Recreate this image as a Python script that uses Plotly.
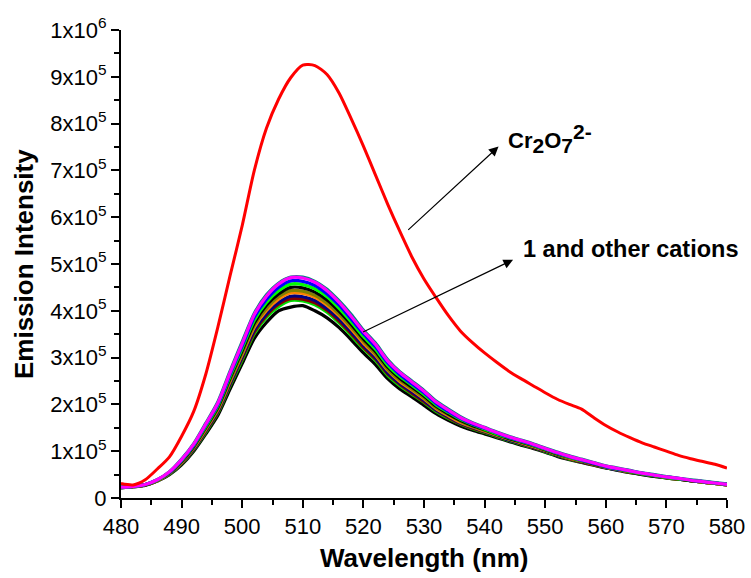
import plotly.graph_objects as go

wavelength = list(range(480, 581, 2))

# values in units of 1e3 counts
cr2o7 = [31, 28, 39, 62, 88, 132, 185, 265, 366, 475, 582, 700, 790, 852, 898, 925, 924, 905,
         865, 810, 752, 690, 628, 570, 515, 468, 428, 390, 357, 332, 310, 290, 271, 255, 240,
         225, 211, 200, 190, 172, 155, 141, 129, 118, 109, 100, 91, 84, 78, 72, 64]

magenta = [23, 25, 29, 39, 56, 82, 115, 158, 203, 268, 330, 392, 431, 457, 471, 470, 461, 443,
           418, 388, 356, 328, 293, 268, 248, 228, 205, 188, 172, 160, 150, 140, 131, 123, 115,
           106, 97, 89, 82, 75, 68, 63, 58, 53, 49, 45, 42, 38, 35, 32, 29]
teal = [23, 25, 29, 39, 56, 83, 116, 160, 206, 271, 334, 395, 434, 459, 472, 472, 463, 446,
        421, 392, 359, 331, 296, 270, 250, 230, 207, 190, 174, 161, 151, 141, 132, 124, 116,
        107, 98, 90, 83, 76, 69, 64, 59, 54, 50, 46, 42, 39, 36, 33, 30]
blue = [23, 25, 29, 39, 55, 81, 113, 156, 200, 264, 325, 386, 424, 450, 464, 463, 454, 436,
        412, 382, 351, 323, 289, 264, 244, 225, 202, 185, 170, 158, 149, 139, 130, 122, 114,
        105, 96, 88, 81, 74, 67, 62, 58, 53, 49, 45, 42, 38, 35, 32, 29]
green = [23, 25, 29, 38, 55, 80, 112, 153, 197, 260, 320, 380, 418, 443, 457, 456, 447, 430,
         405, 376, 345, 318, 284, 260, 241, 221, 199, 183, 168, 157, 147, 137, 129, 121, 113,
         104, 95, 87, 80, 74, 67, 62, 57, 52, 48, 44, 41, 38, 35, 32, 29]
black1 = [23, 25, 28, 38, 54, 78, 110, 151, 194, 256, 315, 374, 412, 436, 450, 449, 440, 423,
          399, 371, 340, 313, 280, 256, 237, 218, 196, 180, 166, 155, 146, 136, 127, 120, 112,
          103, 94, 87, 80, 73, 67, 62, 57, 52, 48, 44, 41, 37, 35, 32, 29]
olive = [23, 25, 28, 38, 53, 77, 108, 149, 191, 252, 310, 369, 405, 430, 443, 442, 433, 416,
         393, 365, 335, 308, 275, 252, 233, 214, 193, 178, 164, 153, 144, 135, 126, 119, 111,
         102, 94, 86, 79, 73, 66, 61, 56, 52, 48, 44, 41, 37, 34, 31, 29]
orange = [23, 24, 28, 37, 53, 76, 107, 147, 189, 249, 307, 365, 401, 425, 438, 437, 429, 412,
          389, 361, 331, 305, 273, 249, 231, 212, 191, 176, 162, 152, 143, 134, 126, 118, 110,
          102, 93, 85, 79, 72, 66, 61, 56, 52, 48, 44, 41, 37, 34, 31, 28]
navy = [22, 24, 28, 37, 52, 75, 105, 145, 186, 245, 302, 359, 394, 418, 431, 430, 422, 405,
        383, 355, 326, 300, 268, 245, 227, 209, 188, 174, 160, 151, 142, 133, 124, 117, 109,
        101, 92, 85, 78, 72, 65, 60, 56, 51, 47, 44, 41, 37, 34, 31, 28]
maroon = [22, 24, 28, 37, 52, 74, 104, 143, 184, 243, 299, 355, 390, 414, 426, 425, 417, 401,
          378, 351, 322, 297, 265, 243, 224, 206, 187, 172, 159, 149, 141, 132, 124, 116, 108,
          100, 92, 84, 77, 71, 65, 60, 55, 51, 47, 43, 40, 37, 34, 31, 28]
lime = [22, 24, 28, 37, 51, 73, 103, 141, 182, 240, 295, 351, 386, 409, 422, 421, 413, 397,
        374, 347, 319, 294, 262, 240, 222, 204, 185, 170, 158, 148, 140, 131, 123, 115, 108,
        99, 91, 83, 77, 71, 64, 60, 55, 51, 47, 43, 40, 37, 34, 31, 28]
black2 = [22, 24, 27, 36, 50, 71, 100, 137, 177, 233, 287, 341, 375, 400, 408, 411, 400, 385,
          364, 338, 310, 285, 255, 233, 216, 198, 180, 166, 154, 145, 137, 129, 121, 113, 106,
          98, 89, 82, 76, 70, 64, 59, 54, 50, 46, 43, 40, 37, 34, 31, 28]

bundle = [
    (black2, "#000000"), (lime, "#00dd00"), (maroon, "#800000"), (navy, "#000080"),
    (orange, "#ff8000"), (olive, "#808000"), (black1, "#000000"), (green, "#00ff00"),
    (blue, "#0000ff"), (teal, "#008080"), (magenta, "#ff00ff"),
]

y_tickvals = [0, 1e5, 2e5, 3e5, 4e5, 5e5, 6e5, 7e5, 8e5, 9e5, 1e6]
y_ticktext = ["0"] + [f"{i}x10<sup>5</sup>" for i in range(1, 10)] + ["1x10<sup>6</sup>"]
x_tickvals = list(range(480, 581, 10))

FONT = "Arial, Liberation Sans, sans-serif"

fig = go.Figure()
for vals, col in bundle:
    fig.add_trace(go.Scatter(x=wavelength, y=[v * 1000 for v in vals], mode="lines",
                             line=dict(color=col, width=3.2, shape="spline", smoothing=0.7),
                             showlegend=False, hoverinfo="skip"))
fig.add_trace(go.Scatter(x=wavelength, y=[v * 1000 for v in cr2o7], mode="lines",
                         line=dict(color="#ff0000", width=3, shape="spline", smoothing=0.7),
                         showlegend=False, hoverinfo="skip"))

axis_common = dict(showline=True, linecolor="black", linewidth=2, ticks="outside",
                   ticklen=8, tickwidth=2, tickcolor="black", showgrid=False, zeroline=False,
                   mirror=False, automargin=False,
                   tickfont=dict(family=FONT, size=22, color="black"))

fig.update_xaxes(range=[480, 580], tickvals=x_tickvals, **axis_common,
                 minor=dict(ticks="outside", ticklen=5, tickwidth=2, tickcolor="black",
                            dtick=5, tick0=480))
fig.update_yaxes(range=[0, 1e6], tickvals=y_tickvals, ticktext=y_ticktext, **axis_common,
                 minor=dict(ticks="outside", ticklen=5, tickwidth=2, tickcolor="black",
                            dtick=50000, tick0=0))

annotations = [
    dict(x=542.3, y=751000, ax=527.15, ay=570000, xref="x", yref="y", axref="x", ayref="y",
         text="", showarrow=True, arrowhead=2, arrowsize=1.6, arrowwidth=1.2, arrowcolor="black"),
    dict(x=544.7, y=509000, ax=519.7, ay=353000, xref="x", yref="y", axref="x", ayref="y",
         text="", showarrow=True, arrowhead=2, arrowsize=1.6, arrowwidth=1.2, arrowcolor="black"),
    dict(x=543.6, y=768000, xref="x", yref="y", xanchor="left", yanchor="middle",
         text="<b>Cr<sub><span style='font-size:21px'>2</span></sub>O<sub><span style='font-size:21px'>7</span></sub><sup><span style='font-size:21px'>2-</span></sup></b>",
         showarrow=False, font=dict(family=FONT, size=22, color="black")),
    dict(x=546.0, y=533000, xref="x", yref="y", xanchor="left", yanchor="middle",
         text="<b>1 and other cations</b>", showarrow=False,
         font=dict(family=FONT, size=23.5, color="black")),
    dict(x=0.5, y=-0.092, xref="paper", yref="paper", xanchor="center", yanchor="top",
         text="<b>Wavelength (nm)</b>", showarrow=False,
         font=dict(family=FONT, size=26, color="black")),
    dict(x=-0.16, y=0.5, xref="paper", yref="paper", xanchor="center", yanchor="middle",
         text="<b>Emission Intensity</b>", showarrow=False, textangle=-90,
         font=dict(family=FONT, size=26, color="black")),
]

fig.update_layout(
    width=751, height=578,
    margin=dict(l=121, r=24, t=30, b=80, autoexpand=False),
    paper_bgcolor="white", plot_bgcolor="white",
    annotations=annotations,
    font=dict(family=FONT, color="black"),
)

fig.write_html("out.html")
